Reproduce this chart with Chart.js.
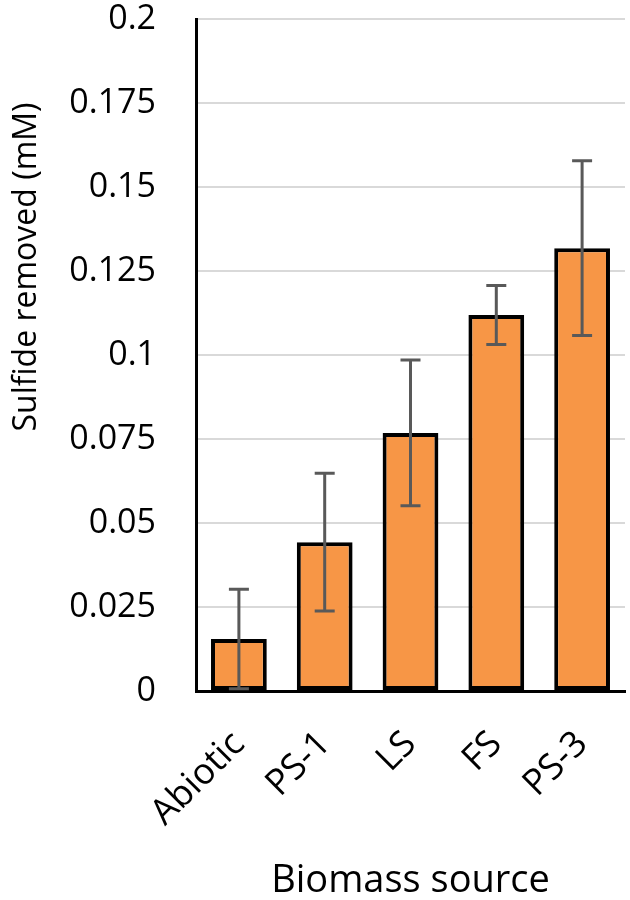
<!DOCTYPE html>
<html>
<head>
<meta charset="utf-8">
<title>Sulfide removed by biomass source</title>
<script src="https://cdn.jsdelivr.net/npm/chart.js@4"></script>
<style>
    body { margin: 0; background: #fff; }
    #wrap { width: 630px; height: 900px; }
</style>
</head>
<body>
<div id="wrap"><canvas id="sulfideChart" width="630" height="900"></canvas></div>
<script>
// Data
const categories = ['Abiotic', 'PS-1', 'LS', 'FS', 'PS-3'];
const sulfideRemoved = [0.0155, 0.0443, 0.0768, 0.1119, 0.1318];
const errorValues = [0.0148, 0.0205, 0.0217, 0.0088, 0.026];
const yTicks = [0, 0.025, 0.05, 0.075, 0.1, 0.125, 0.15, 0.175, 0.2];

const FONT = "'Open Sans', 'Liberation Sans', sans-serif";

// Error bars drawn with the y scale of the chart
const errorBarPlugin = {
    id: 'errorBars',
    afterDatasetsDraw(chart) {
        const ctx = chart.ctx;
        const yScale = chart.scales.y;
        const meta = chart.getDatasetMeta(0);
        ctx.save();
        ctx.strokeStyle = '#595959';
        ctx.lineWidth = 3;
        meta.data.forEach(function(bar, i) {
            const v = sulfideRemoved[i];
            const e = errorValues[i];
            const top = yScale.getPixelForValue(v + e);
            const bottom = yScale.getPixelForValue(v - e);
            const x = bar.x;
            const cap = 10;
            ctx.beginPath();
            ctx.moveTo(x, top);
            ctx.lineTo(x, bottom);
            ctx.moveTo(x - cap, top);
            ctx.lineTo(x + cap, top);
            ctx.moveTo(x - cap, bottom);
            ctx.lineTo(x + cap, bottom);
            ctx.stroke();
        });
        ctx.restore();
    }
};

// Y axis title sits a bit above the plot centre in the original
const yTitlePlugin = {
    id: 'yTitle',
    afterDraw(chart) {
        const ctx = chart.ctx;
        ctx.save();
        ctx.translate(27, 267);
        ctx.rotate(-Math.PI / 2);
        ctx.font = '32px ' + FONT;
        ctx.fillStyle = '#000';
        ctx.textAlign = 'center';
        ctx.textBaseline = 'middle';
        ctx.fillText('Sulfide removed (mM)', 0, 0);
        ctx.restore();
    }
};

new Chart(document.getElementById('sulfideChart'), {
    type: 'bar',
    data: {
        labels: categories,
        datasets: [{
            data: sulfideRemoved,
            backgroundColor: '#F79646',
            borderColor: '#000000',
            borderWidth: 4,
            borderSkipped: false,
            categoryPercentage: 1,
            barPercentage: 0.65
        }]
    },
    options: {
        responsive: false,
        animation: false,
        layout: {
            padding: { top: 0, right: 5, left: 0, bottom: 0 }
        },
        plugins: {
            legend: { display: false },
            tooltip: { enabled: false }
        },
        scales: {
            x: {
                grid: { display: false, drawTicks: false },
                border: { color: '#000', width: 3 },
                ticks: {
                    color: '#000',
                    font: { family: FONT, size: 36, lineHeight: 1.2 },
                    minRotation: 45,
                    maxRotation: 45,
                    padding: 32
                },
                title: {
                    display: true,
                    text: 'Biomass source',
                    color: '#000',
                    font: { family: FONT, size: 38, lineHeight: 1.0 },
                    padding: { top: 0, bottom: 0 }
                },
                afterFit(scale) {
                    scale.height = 209;
                    scale.paddingLeft = 0;
                    scale.paddingRight = 0;
                }
            },
            y: {
                min: 0,
                max: 0.2,
                afterBuildTicks(scale) {
                    scale.ticks = yTicks.map(v => ({ value: v }));
                },
                grid: { color: '#D9D9D9', lineWidth: 2, drawTicks: false },
                border: { color: '#000', width: 3 },
                ticks: {
                    color: '#000',
                    font: { family: FONT, size: 34, lineHeight: 1 },
                    padding: 40,
                    callback: v => String(Number(v.toFixed(3)))
                },
                afterFit(scale) {
                    scale.width = 196;
                    scale.paddingTop = 19;
                }
            }
        }
    },
    plugins: [errorBarPlugin, yTitlePlugin]
});
</script>
</body>
</html>
